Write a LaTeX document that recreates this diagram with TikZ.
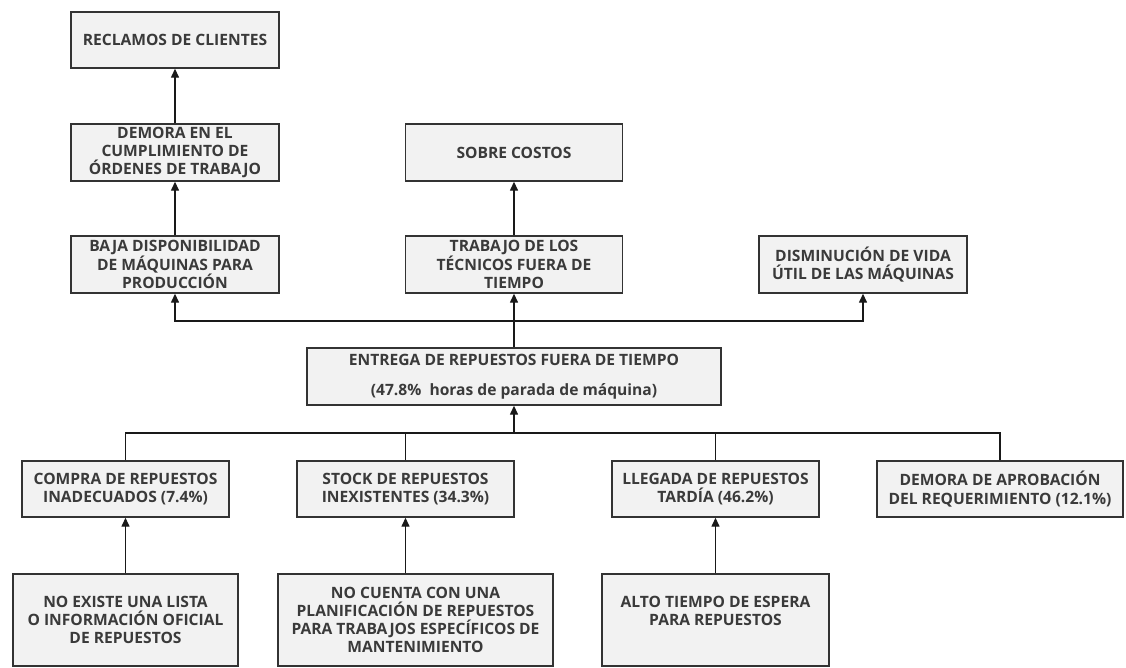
\documentclass[tikz,border=0pt]{standalone}
\usepackage{fontspec}
\setmainfont{Open Sans}
\usetikzlibrary{arrows.meta}
\definecolor{boxfill}{HTML}{F2F2F2}
\definecolor{boxline}{HTML}{333333}
\definecolor{txtcol}{HTML}{3A3A3A}
\begin{document}
\begin{tikzpicture}[x=1pt,y=-1pt,
  cause/.style={draw=boxline, line width=1.4pt, fill=boxfill, inner sep=0pt,
    text=txtcol, font=\fontsize{15.6}{18.2}\selectfont\bfseries, align=center},
  arr/.style={-{Triangle[width=8pt,length=9pt]}, line width=1.4pt, draw=black!90},
  link/.style={line width=1.4pt, draw=black!90}]
\useasboundingbox (0,0) rectangle (1126,667);

% effects
\node[cause, minimum width=208pt, minimum height=56pt] (recl) at (175,40) {RECLAMOS DE CLIENTES};
\node[cause, minimum width=208pt, minimum height=57pt] (demot) at (175,152.5) {DEMORA EN EL\\CUMPLIMIENTO DE\\ÓRDENES DE TRABAJO};
\node[cause, minimum width=208pt, minimum height=57pt] (baja) at (175,264.5) {BAJA DISPONIBILIDAD\\DE MÁQUINAS PARA\\PRODUCCIÓN};
\node[cause, minimum width=217pt, minimum height=57pt] (sobre) at (514,152.5) {SOBRE COSTOS};
\node[cause, minimum width=217pt, minimum height=57pt] (trab) at (514,264.5) {TRABAJO DE LOS\\TÉCNICOS FUERA DE\\TIEMPO};
\node[cause, minimum width=208pt, minimum height=57pt] (dism) at (863,264.5) {DISMINUCIÓN DE VIDA\\ÚTIL DE LAS MÁQUINAS};

% central problem
\node[cause, minimum width=414pt, minimum height=57pt] (entrega) at (514,376.5)
  {ENTREGA DE REPUESTOS FUERA DE TIEMPO\\[12pt](47.8\%\ \ horas de parada de máquina)};

% direct causes
\node[cause, minimum width=207pt, minimum height=56pt] (compra) at (125.5,489) {COMPRA DE REPUESTOS\\INADECUADOS (7.4\%)};
\node[cause, minimum width=217pt, minimum height=56pt] (stock) at (405.5,489) {STOCK DE REPUESTOS\\INEXISTENTES (34.3\%)};
\node[cause, minimum width=207pt, minimum height=56pt] (llegada) at (715.5,489) {LLEGADA DE REPUESTOS\\TARDÍA (46.2\%)};
\node[cause, minimum width=246pt, minimum height=56pt] (demapr) at (1000,489) {DEMORA DE APROBACIÓN\\DEL REQUERIMIENTO (12.1\%)};

% root causes
\node[cause, minimum width=225pt, minimum height=92pt] (noex) at (125.5,620) {NO EXISTE UNA LISTA\\O INFORMACIÓN OFICIAL\\DE REPUESTOS};
\node[cause, minimum width=275pt, minimum height=92pt] (nocuenta) at (415.5,620) {NO CUENTA CON UNA\\PLANIFICACIÓN DE REPUESTOS\\PARA TRABAJOS ESPECÍFICOS DE\\MANTENIMIENTO};
\node[cause, minimum width=227pt, minimum height=92pt] (alto) at (715.5,620) {ALTO TIEMPO DE ESPERA\\PARA REPUESTOS\\\mbox{}};

% upper tree
\draw[arr] (demot.north) -- (recl.south);
\draw[arr] (baja.north) -- (demot.south);
\draw[arr] (trab.north) -- (sobre.south);
\draw[arr] (entrega.north) -- (trab.south);
\coordinate (topbus) at (514,321);
\draw[arr] (topbus) -| (baja.south);
\draw[arr] (topbus) -| (dism.south);

% lower tree
\coordinate (botbus) at (514,433);
\draw[link] (compra.north) |- (botbus);
\draw[link] (demapr.north) |- (botbus);
\draw[link] (stock.north) -- (stock.north |- botbus);
\draw[link] (llegada.north) -- (llegada.north |- botbus);
\draw[arr] (botbus) -- (entrega.south);

% root causes to direct causes
\draw[arr] (noex.north) -- (compra.south);
\draw[arr] (nocuenta.north -| stock.south) -- (stock.south);
\draw[arr] (alto.north) -- (llegada.south);
\end{tikzpicture}
\end{document}
